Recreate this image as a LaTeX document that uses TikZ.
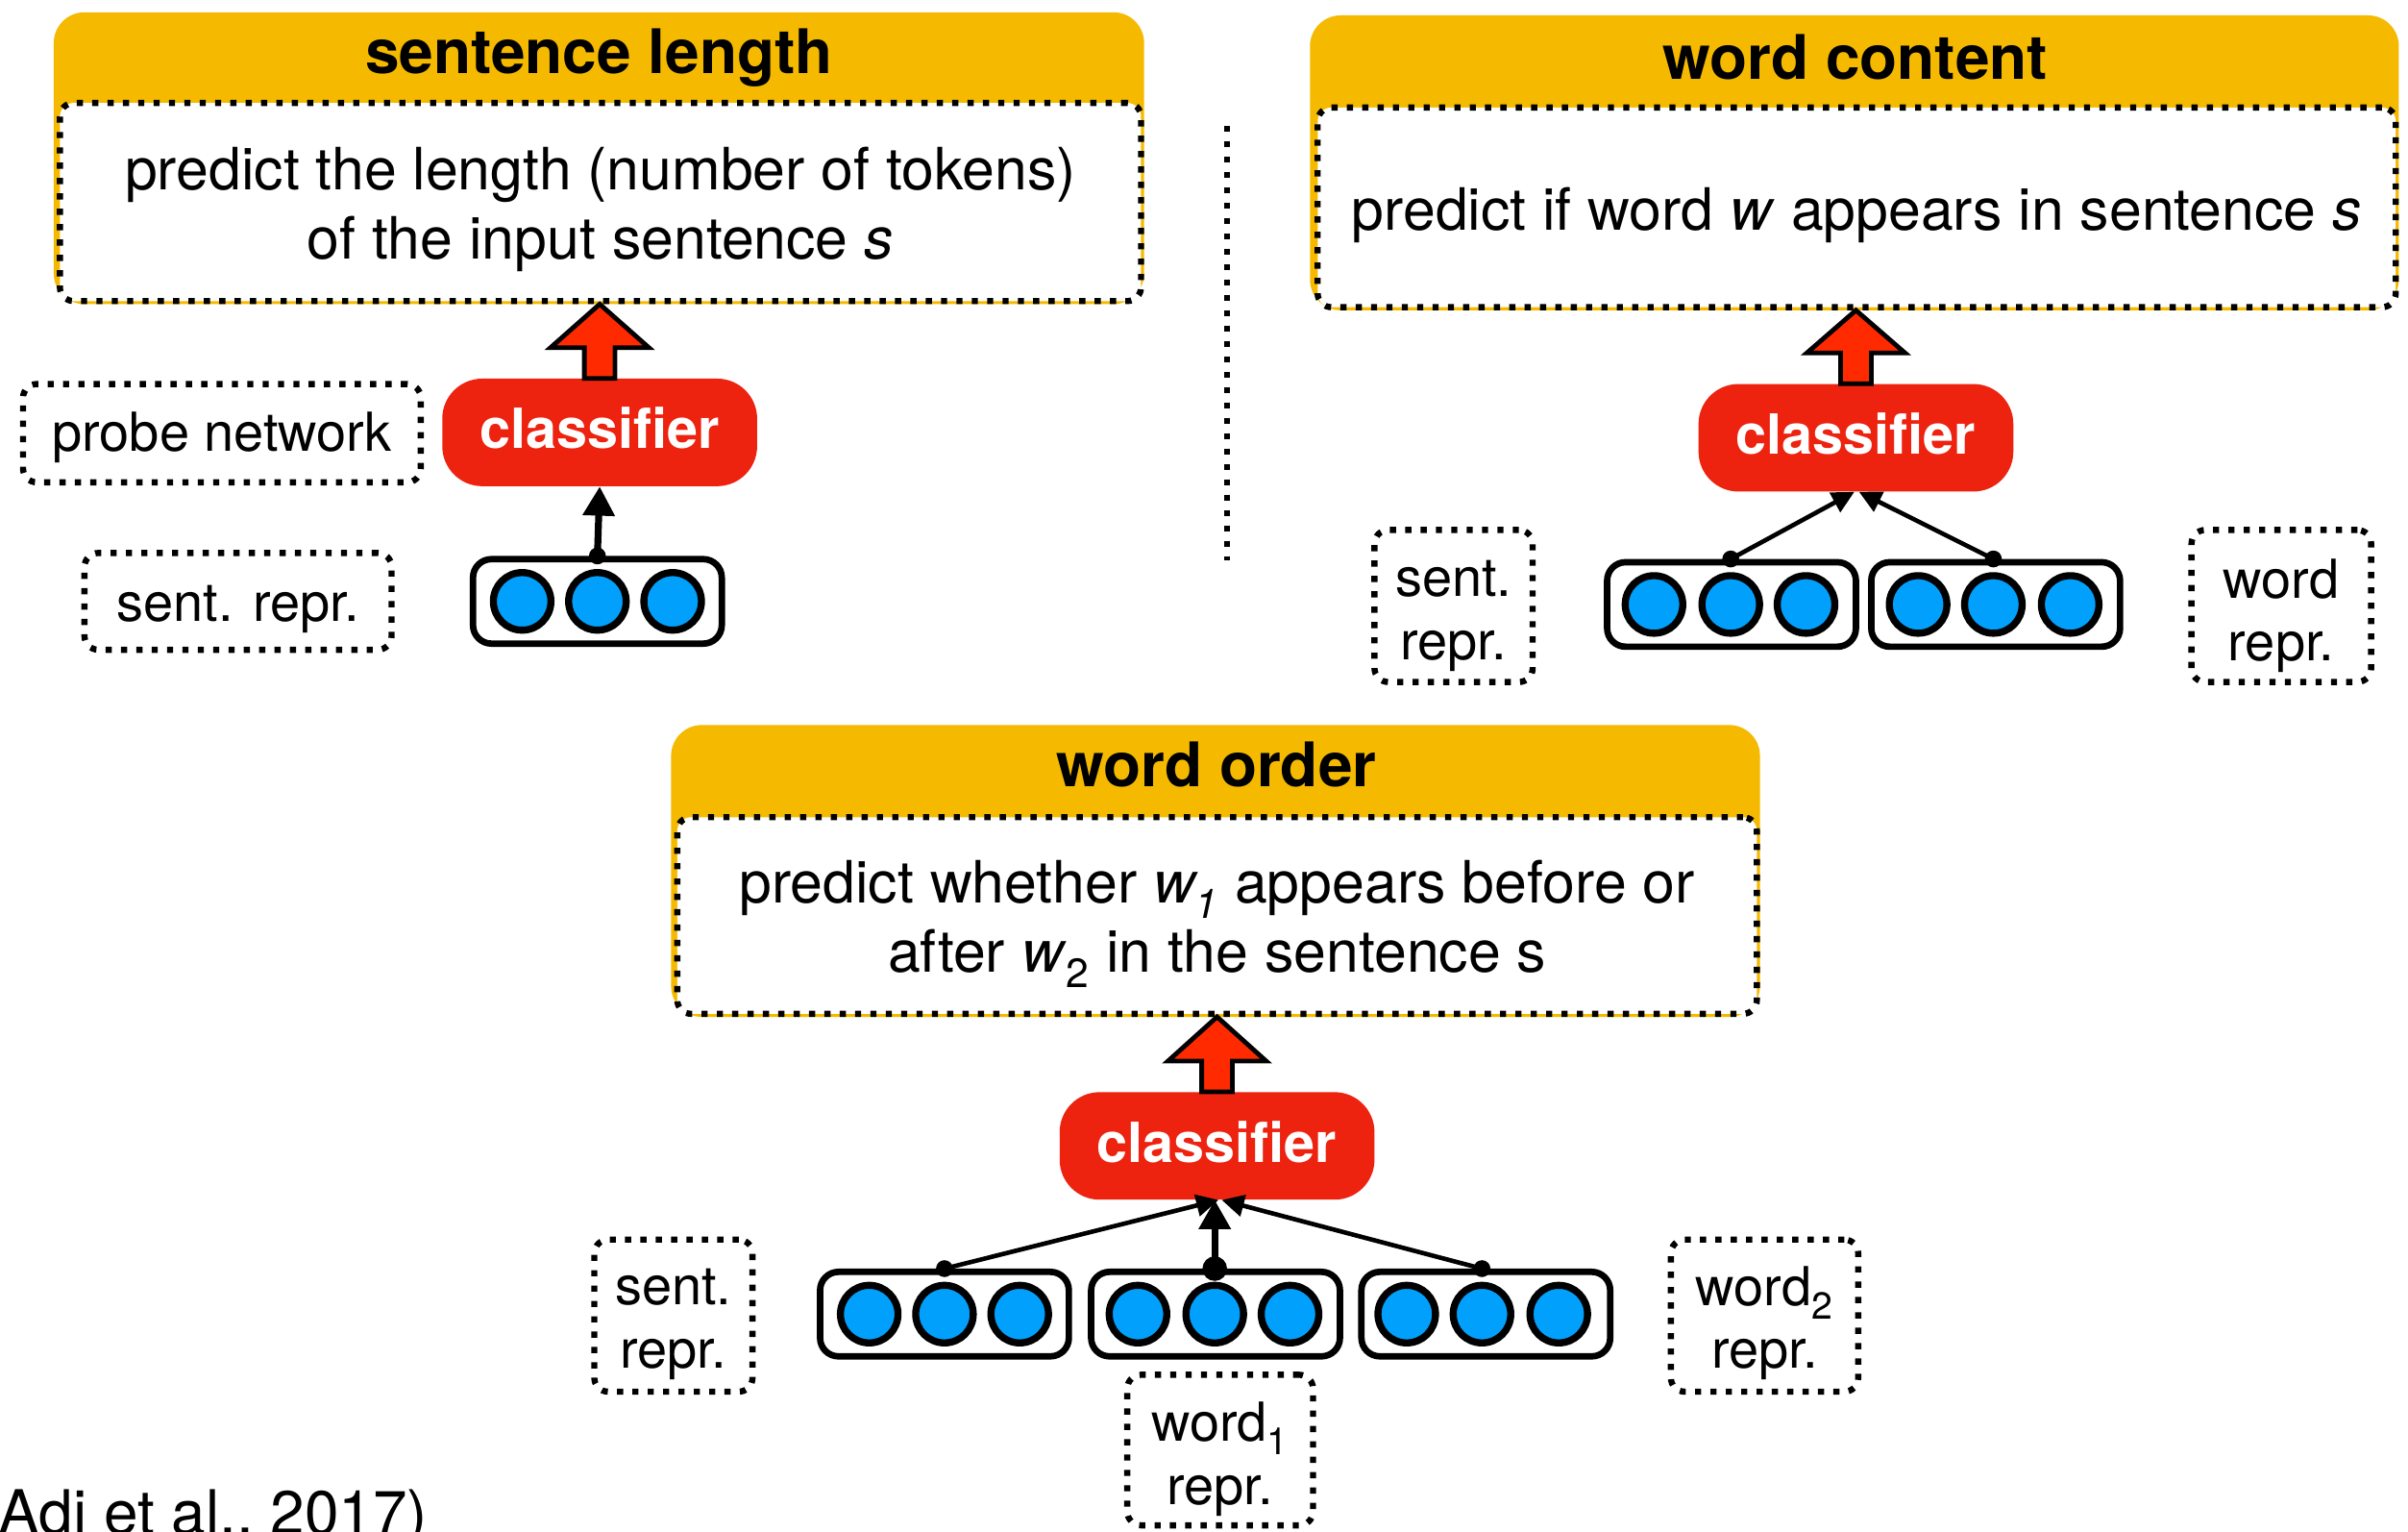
\documentclass[tikz,border=0pt]{standalone}
\usepackage{fontspec}
\setmainfont{TeX Gyre Heros}
\usetikzlibrary{arrows.meta,calc}
\definecolor{hdr}{RGB}{245,185,0}
\definecolor{clsred}{RGB}{237,35,16}
\definecolor{arrred}{RGB}{255,42,0}
\definecolor{neu}{RGB}{0,160,252}
\newcommand{\redup}[2]{%
  \draw[blockarr] ($(#1.north)+(-10,0)$) -- ++(0,-20) -- ++(-22,0)
    -- (#1.north |- #2.south) -- ($(#1.north)+(32,-20)$) -- ++(-22,0)
    -- ($(#1.north)+(10,0)$) -- cycle;}
\tikzset{
  hdrbg/.style={fill=hdr, rounded corners=20pt, inner sep=0pt},
  hdrtext/.style={font=\fontsize{40}{48}\selectfont\bfseries, inner sep=0pt},
  dotbox/.style={draw, fill=white, line width=4pt, dash pattern=on 4pt off 6pt, rounded corners=9pt, inner sep=0pt},
  bodytext/.style={font=\fontsize{38}{45}\selectfont, align=center, inner sep=0pt},
  lbltext/.style={font=\fontsize{35}{41}\selectfont, align=center, inner sep=0pt},
  cls/.style={fill=clsred, rounded corners=26pt, text=white, font=\fontsize{36}{40}\selectfont\bfseries, minimum width=205pt, minimum height=70pt, inner sep=0pt, text height=26pt, text depth=5pt},
  vec/.style={draw, line width=4.2pt, rounded corners=12pt, fill=white, minimum width=162pt, minimum height=55pt, inner sep=0pt},
  neuron/.style={circle, draw, line width=4.6pt, fill=neu, minimum size=37.5pt, inner sep=0pt},
  thinarr/.style={line width=2.9pt, -{Triangle[length=14.5pt,width=14pt]}},
  thickarr/.style={line width=4.5pt, -{Triangle[length=19pt,width=20pt]}},
  blockarr/.style={fill=arrred, draw, line width=3pt, line join=miter},
  sepline/.style={line width=4pt, dash pattern=on 4pt off 6pt},
}
\begin{document}
\begin{tikzpicture}[x=1pt,y=-1pt]
\path[fill=white, use as bounding box] (0,0) rectangle (1568,997);

% ---------- panel 1: sentence length ----------
\node[hdrbg, minimum width=710pt, minimum height=190pt] (h1) at (390,103) {};
\node[hdrtext] (t1) at (390,37.5) {sentence length};
\node[dotbox, minimum width=704pt, minimum height=129pt] (b1) at (391,131.5) {};
\node[bodytext] (b1t) at (391,136.5)
  {predict the length (number of tokens)\\of the input sentence \textit{s}};
\node[cls] (c1) at (390.5,281.5) {classifier};
\node[dotbox, minimum width=259pt, minimum height=64pt] (probe) at (144.5,282) {};
\node[lbltext] (probet) at (144.5,285) {probe network};
\node[dotbox, minimum width=200pt, minimum height=63pt] (s1) at (155,391.5) {};
\node[lbltext] (s1t) at (155,396.5) {sent. repr.};
\node[vec] (v1) at (389,391.5) {};
\node[neuron] (n11) at (340,391.5) {};
\node[neuron] (n12) at (389,391.5) {};
\node[neuron] (n13) at (438,391.5) {};
\redup{c1}{b1}
\draw[thickarr] (n12 |- v1.north) -- (c1.south);
\fill (n12 |- v1.north) circle (5.5pt);

% separator
\coordinate (sepA) at (799,82);
\coordinate (sepB) at (799,365);
\draw[sepline] (sepA) -- (sepB);

% ---------- panel 2: word content ----------
\node[hdrbg, minimum width=709pt, minimum height=192pt] (h2) at (1207.5,106) {};
\node[hdrtext] (t2) at (1208,37.5) {word content};
\node[dotbox, minimum width=702pt, minimum height=130pt] (b2) at (1209,135) {};
\node[bodytext] (b2t) at (1209,140)
  {predict if word \textit{w} appears in sentence \textit{s}};
\node[cls] (c2) at (1208.5,285) {classifier};
\node[dotbox, minimum width=103pt, minimum height=99pt] (s2) at (946.5,394.5) {};
\node[lbltext] (s2t) at (946.5,401) {sent.\\repr.};
\node[dotbox, minimum width=117pt, minimum height=99pt] (w2) at (1485.5,394.5) {};
\node[lbltext] (w2t) at (1485.5,401) {word\\repr.};
\node[vec] (v2a) at (1127.5,393.5) {};
\node[vec] (v2b) at (1299.5,393.5) {};
\node[neuron] (n21) at (1077,393.5) {};
\node[neuron] (n22) at (1127,393.5) {};
\node[neuron] (n23) at (1176,393.5) {};
\node[neuron] (n24) at (1249,393.5) {};
\node[neuron] (n25) at (1298,393.5) {};
\node[neuron] (n26) at (1348,393.5) {};
\redup{c2}{b2}
\draw[thinarr] (n22 |- v2a.north) -- ([xshift=-1pt]c2.south);
\draw[thinarr] (n25 |- v2b.north) -- ([xshift=2pt]c2.south);
\fill (n22 |- v2a.north) circle (5.5pt);
\fill (n25 |- v2b.north) circle (5.5pt);

% ---------- panel 3: word order ----------
\node[hdrbg, minimum width=709pt, minimum height=190pt] (h3) at (791.5,567) {};
\node[hdrtext] (t3) at (792,498) {word order};
\node[dotbox, minimum width=703pt, minimum height=128pt] (b3) at (792.5,596) {};
\node[bodytext] (b3t) at (792.5,601.5)
  {predict whether \textit{w\textsubscript{1}} appears before or\\after \textit{w}\textsubscript{2} in the sentence s};
\node[cls] (c3) at (792.5,746) {classifier};
\node[dotbox, minimum width=103pt, minimum height=99pt] (s3) at (438.5,856.5) {};
\node[lbltext] (s3t) at (438.5,862) {sent.\\repr.};
\node[dotbox, minimum width=121pt, minimum height=98pt] (w31) at (794.5,944) {};
\node[lbltext] (w31t) at (794.5,950) {word\textsubscript{1}\\repr.};
\node[dotbox, minimum width=122pt, minimum height=99pt] (w32) at (1149,856.5) {};
\node[lbltext] (w32t) at (1149,861.5) {word\textsubscript{2}\\repr.};
\node[vec] (v3a) at (615,855.5) {};
\node[vec] (v3b) at (791.5,855.5) {};
\node[vec] (v3c) at (967.5,855.5) {};
\node[neuron] (n31) at (566,855.5) {};
\node[neuron] (n32) at (615,855.5) {};
\node[neuron] (n33) at (664,855.5) {};
\node[neuron] (n34) at (741,855.5) {};
\node[neuron] (n35) at (791,855.5) {};
\node[neuron] (n36) at (840,855.5) {};
\node[neuron] (n37) at (916,855.5) {};
\node[neuron] (n38) at (965,855.5) {};
\node[neuron] (n39) at (1015,855.5) {};
\redup{c3}{b3}
\draw[thinarr] (n32 |- v3a.north) -- ([xshift=1pt]c3.south);
\draw[thinarr] (n38 |- v3c.north) -- ([xshift=3pt]c3.south);
\draw[thickarr] (n35 |- v3b.north) -- (c3.south -| n35);
\fill (n32 |- v3a.north) circle (5.5pt);
\fill (n38 |- v3c.north) circle (5.5pt);
\fill (n35 |- v3b.north) circle (8pt);

% citation
\node[anchor=base west, inner sep=0pt, font=\fontsize{40}{48}\selectfont] (cite) at (-1,999) {Adi et al., 2017)};
\end{tikzpicture}
\end{document}
